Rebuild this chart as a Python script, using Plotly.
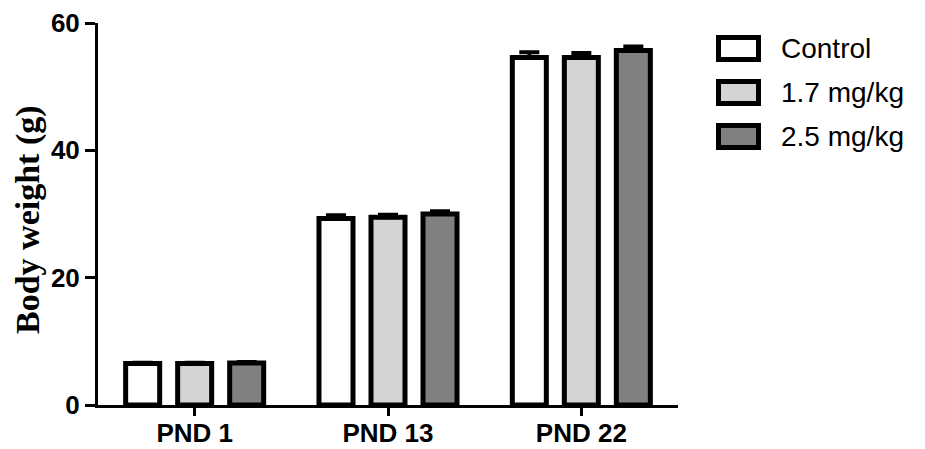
import plotly.graph_objects as go

# Postnatal day groups and treatment series
days = ["PND 1", "PND 13", "PND 22"]
groups = ["Control", "1.7 mg/kg", "2.5 mg/kg"]
control = [6.5, 29.3, 54.6]
low_dose = [6.5, 29.5, 54.6]
high_dose = [6.6, 30.0, 55.7]
control_sem = [0.15, 0.5, 0.8]
low_dose_sem = [0.15, 0.4, 0.7]
high_dose_sem = [0.15, 0.45, 0.6]
y_ticks = [0, 20, 40, 60]
y_title = "Body weight (g)"

series = [control, low_dose, high_dose]
sems = [control_sem, low_dose_sem, high_dose_sem]
fills = ["#ffffff", "#d4d4d4", "#808080"]

W, H = 925, 449
ML, MR, MT, MB = 98, 247, 23, 44
PW, PH = W - ML - MR, H - MT - MB

fig = go.Figure()
for name, vals, err, fill in zip(groups, series, sems, fills):
    fig.add_trace(go.Bar(
        x=days, y=vals, name=name, showlegend=False,
        marker=dict(color=fill, line=dict(color="black", width=5)),
        error_y=dict(type="data", array=err, arrayminus=[0] * len(err),
                     symmetric=False, color="black", thickness=4, width=10),
    ))

# Convert pixel positions to paper coordinates
def px_x(px):
    return (px - ML) / PW

def px_y(py):
    return (H - MB - py) / PH

# Legend drawn as outlined swatches with labels to the right of the plot
shapes = []
annotations = []
for i, (name, fill) in enumerate(zip(groups, fills)):
    cy = 48.5 + 44 * i
    shapes.append(dict(
        type="rect", xref="paper", yref="paper",
        x0=px_x(718.5), x1=px_x(758.5), y0=px_y(cy + 11), y1=px_y(cy - 11),
        fillcolor=fill, line=dict(color="black", width=5),
    ))
    annotations.append(dict(
        xref="paper", yref="paper", x=px_x(779), y=px_y(cy),
        xanchor="left", yanchor="middle", showarrow=False, text=name,
        font=dict(family="Liberation Sans, Arial", size=28, color="black"),
    ))

# Rotated y-axis title
annotations.append(dict(
    xref="paper", yref="paper", x=px_x(28), y=px_y(220),
    xanchor="center", yanchor="middle", showarrow=False, textangle=-90,
    text=y_title,
    font=dict(family="Liberation Serif, Times New Roman", size=34,
              color="black", weight="bold"),
))

fig.update_layout(
    width=W, height=H,
    margin=dict(l=ML, r=MR, t=MT, b=MB, autoexpand=False),
    plot_bgcolor="white", paper_bgcolor="white",
    barmode="group", bargap=0.193, bargroupgap=0.346,
    shapes=shapes, annotations=annotations,
    xaxis=dict(
        range=[-0.5, 2.5], showline=True, linecolor="black", linewidth=3,
        ticks="outside", ticklen=8, tickwidth=3, tickcolor="black",
        showgrid=False, zeroline=False, automargin=False,
        ticklabelstandoff=-5,
        tickfont=dict(family="Liberation Sans, Arial", size=26, color="black",
                      weight="bold"),
    ),
    yaxis=dict(
        range=[0, 60], tickvals=y_ticks, showline=True, linecolor="black",
        linewidth=3, ticks="outside", ticklen=10, tickwidth=3,
        tickcolor="black", showgrid=False, zeroline=False, automargin=False,
        tickfont=dict(family="Liberation Sans, Arial", size=26, color="black",
                      weight="bold"),
    ),
)

fig.write_html("out.html")
